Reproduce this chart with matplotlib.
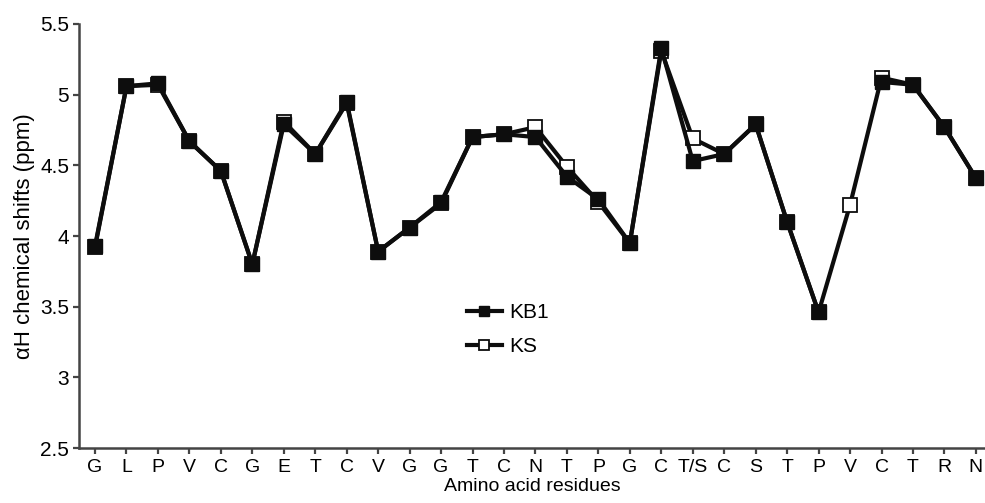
import numpy as np
import matplotlib
matplotlib.use('Agg')
import matplotlib.pyplot as plt

plt.rcParams['font.family'] = ['Liberation Sans', 'DejaVu Sans']

residues = ['G', 'L', 'P', 'V', 'C', 'G', 'E', 'T', 'C', 'V', 'G', 'G', 'T', 'C', 'N',
            'T', 'P', 'G', 'C', 'T/S', 'C', 'S', 'T', 'P', 'V', 'C', 'T', 'R', 'N']

# KB1 has no value at the second V
kb1 = [3.93, 5.06, 5.08, 4.67, 4.46, 3.80, 4.79, 4.58, 4.95, 3.89, 4.06, 4.24, 4.70, 4.72, 4.70,
       4.42, 4.26, 3.95, 5.33, 4.53, 4.58, 4.79, 4.10, 3.46, np.nan, 5.09, 5.07, 4.77, 4.41]
ks = [3.92, 5.06, 5.07, 4.67, 4.46, 3.80, 4.81, 4.58, 4.94, 3.89, 4.06, 4.23, 4.70, 4.72, 4.77,
      4.49, 4.24, 3.95, 5.31, 4.69, 4.58, 4.79, 4.10, 3.46, 4.22, 5.12, 5.07, 4.77, 4.41]

y_ticks = [2.5, 3, 3.5, 4, 4.5, 5, 5.5]
y_ticklabels = ['2.5', '3', '3.5', '4', '4.5', '5', '5.5']


def main():
    fig = plt.figure(figsize=(9.85, 5.03), dpi=100)
    ax = fig.add_axes([0.0802, 0.1093, 0.9198, 0.8430])

    x = np.arange(len(residues))
    ink = '#0d0d0d'

    ax.plot(x, ks, '-s', color=ink, lw=3, ms=10.5, mfc='white', mec=ink, mew=1.3,
            label='KS', zorder=2)
    ax.plot(x, kb1, '-s', color=ink, lw=3, ms=10.5, mfc=ink, mec=ink, mew=1.0,
            label='KB1', zorder=3)

    ax.set_xlim(-0.51, 28.29)
    ax.set_ylim(2.5, 5.5)
    ax.set_xticks(x)
    ax.set_xticklabels(residues, fontsize=14)
    ax.set_yticks(y_ticks)
    ax.set_yticklabels(y_ticklabels, fontsize=15)

    for side in ['top', 'right']:
        ax.spines[side].set_visible(False)
    for side in ['left', 'bottom']:
        ax.spines[side].set_color('#444444')
        ax.spines[side].set_linewidth(1.8)
    ax.tick_params(direction='out', length=4, width=1.6, color='#444444', pad=3)
    ax.tick_params(axis='x', pad=4)

    ax.set_xlabel('Amino acid residues', fontsize=14, labelpad=1)
    ax.set_ylabel('αH chemical shifts (ppm)', fontsize=16, labelpad=4)

    handles, labels = ax.get_legend_handles_labels()
    ax.legend(handles[::-1], labels[::-1], loc='upper left',
              bbox_to_anchor=(0.428, 0.341), frameon=False, fontsize=15,
              handlelength=1.7, handletextpad=0.35, labelspacing=0.7,
              borderpad=0, borderaxespad=0, markerscale=0.75)

    fig.savefig('out.png', dpi=100)


if __name__ == '__main__':
    main()
